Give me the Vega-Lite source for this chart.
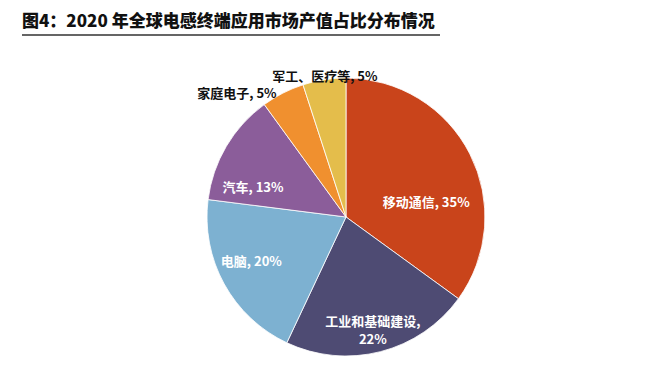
{
  "$schema": "https://vega.github.io/schema/vega-lite/v6.json",
  "autosize": {"type": "none"},
  "width": 418,
  "height": 330,
  "padding": {"left": 22, "top": 35, "right": 220, "bottom": 0},
  "background": "white",
  "title": {
    "text": "图4：2020 年全球电感终端应用市场产值占比分布情况",
    "anchor": "start",
    "font": "Noto Sans CJK SC",
    "fontSize": 17,
    "fontWeight": 900,
    "color": "#111111",
    "baseline": "alphabetic",
    "offset": 6,
    "dy": 15
  },
  "config": {
    "view": {"stroke": "#333333", "strokeWidth": 1.5, "strokeDash": [418, 3000]}
  },
  "data": {
    "values": [
      {"cat": "移动通信", "value": 35, "label": "移动通信, 35%", "order": 1},
      {"cat": "工业和基础建设", "value": 22, "label": "工业和基础建设,\n22%", "order": 2},
      {"cat": "电脑", "value": 20, "label": "电脑, 20%", "order": 3},
      {"cat": "汽车", "value": 13, "label": "汽车, 13%", "order": 4},
      {"cat": "家庭电子", "value": 5, "label": "家庭电子, 5%", "order": 5},
      {"cat": "军工、医疗等", "value": 5, "label": "军工、医疗等, 5%", "order": 6}
    ]
  },
  "encoding": {
    "theta": {"field": "value", "type": "quantitative", "stack": true},
    "order": {"field": "order", "type": "quantitative"},
    "x": {"datum": 0.7751, "type": "quantitative", "scale": {"domain": [0, 1]}, "axis": null},
    "y": {"datum": 0.4485, "type": "quantitative", "scale": {"domain": [0, 1]}, "axis": null}
  },
  "layer": [
    {
      "mark": {"type": "arc", "outerRadius": 139, "stroke": "white", "strokeWidth": 0.8},
      "encoding": {
        "color": {
          "field": "cat",
          "type": "nominal",
          "scale": {
            "domain": ["移动通信", "工业和基础建设", "电脑", "汽车", "家庭电子", "军工、医疗等"],
            "range": ["#C9441B", "#4E4B73", "#7DB1D1", "#8B5D9A", "#F0902F", "#E4BD4B"]
          },
          "legend": null
        }
      }
    },
    {
      "mark": {"type": "text", "radius": 108, "font": "Noto Sans CJK SC", "fontSize": 13, "fontWeight": "bold", "fill": "white", "lineBreak": "\n", "lineHeight": 18},
      "encoding": {
        "text": {"condition": {"test": "datum.cat === '工业和基础建设'", "field": "label"}, "value": ""}
      }
    },
    {
      "mark": {"type": "text", "radius": 108, "dy": -7, "font": "Noto Sans CJK SC", "fontSize": 13, "fontWeight": "bold", "fill": "white"},
      "encoding": {
        "text": {"condition": {"test": "datum.cat === '电脑'", "field": "label"}, "value": ""}
      }
    },
    {
      "mark": {"type": "text", "radius": 108, "dy": 26, "font": "Noto Sans CJK SC", "fontSize": 13, "fontWeight": "bold", "fill": "white"},
      "encoding": {
        "text": {"condition": {"test": "datum.cat === '汽车'", "field": "label"}, "value": ""}
      }
    },
    {
      "mark": {"type": "text", "radius": 90, "dy": 27, "font": "Noto Sans CJK SC", "fontSize": 13, "fontWeight": "bold", "fill": "white"},
      "encoding": {
        "text": {"condition": {"test": "datum.cat === '移动通信'", "field": "label"}, "value": ""}
      }
    },
    {
      "mark": {"type": "text", "radius": 148, "dy": 6, "dx": 2, "font": "Noto Sans CJK SC", "fontSize": 13, "fontWeight": "bold", "fill": "#111111"},
      "encoding": {
        "text": {"condition": {"test": "datum.cat === '军工、医疗等'", "field": "label"}, "value": ""}
      }
    },
    {
      "mark": {"type": "text", "radius": 144, "align": "right", "dx": -4, "dy": 5, "font": "Noto Sans CJK SC", "fontSize": 13, "fontWeight": "bold", "fill": "#111111"},
      "encoding": {
        "text": {"condition": {"test": "datum.cat === '家庭电子'", "field": "label"}, "value": ""}
      }
    }
  ]
}
